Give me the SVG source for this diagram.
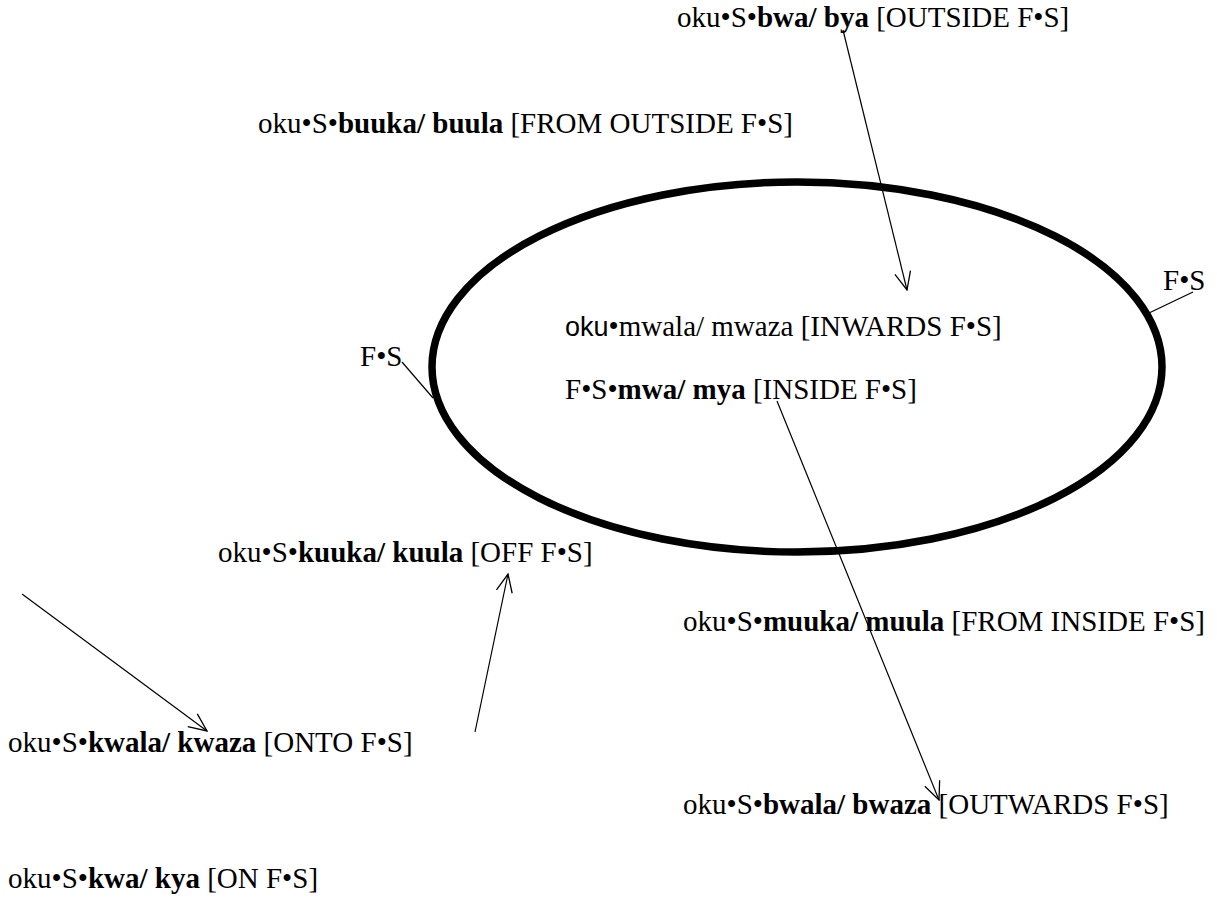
<svg xmlns="http://www.w3.org/2000/svg" width="1217" height="900" viewBox="0 0 1217 900">
  <style>
    text { font-family: "Liberation Serif", "Times New Roman", serif; font-size: 29px; fill: #000; }
    .b { font-weight: bold; }
    .sans { font-family: "Liberation Sans", Arial, sans-serif; font-size: 27px; }
    .conn { stroke: #000; stroke-width: 1.2; fill: none; }
    .arrow { marker-end: url(#openArrow); }
  </style>
  <defs>
    <marker id="openArrow" markerUnits="userSpaceOnUse" markerWidth="20" markerHeight="18" viewBox="0 0 20 18" refX="19" refY="9" orient="auto">
      <path d="M1,1 L19,9 L1,17" fill="none" stroke="#000" stroke-width="1.3"/>
    </marker>
  </defs>
  <rect width="1217" height="900" fill="#fff"/>

  <!-- the figure: a thick ellipse -->
  <g id="figure">
    <ellipse cx="797" cy="367" rx="365" ry="185" fill="none" stroke="#000" stroke-width="7.5"/>
  </g>

  <!-- connectors -->
  <g id="connectors">
    <line class="conn arrow" x1="843" y1="30" x2="907" y2="290"/>
    <line class="conn arrow" x1="777" y1="401" x2="939" y2="800"/>
    <line class="conn arrow" x1="22" y1="594" x2="207" y2="731"/>
    <line class="conn arrow" x1="475" y1="732" x2="508" y2="574"/>
    <line class="conn" x1="402" y1="362" x2="433" y2="398"/>
    <line class="conn" x1="1193" y1="292" x2="1149" y2="313"/>
  </g>

  <g id="outside"><text x="677" y="27">oku•S•<tspan class="b">bwa/ bya</tspan> [OUTSIDE F•S]</text></g>
  <g id="from-outside"><text x="258" y="133">oku•S•<tspan class="b">buuka/ buula</tspan> [FROM OUTSIDE F•S]</text></g>
  <g id="fs-right"><text x="1163" y="290">F•S</text></g>
  <g id="inwards"><text x="565" y="336"><tspan class="sans">oku</tspan>•mwala/ mwaza [INWARDS F•S]</text></g>
  <g id="fs-left"><text x="360" y="366">F•S</text></g>
  <g id="inside"><text x="565" y="399">F•S•<tspan class="b">mwa/ mya</tspan> [INSIDE F•S]</text></g>
  <g id="off"><text x="218" y="562">oku•S•<tspan class="b">kuuka/ kuula</tspan> [OFF F•S]</text></g>
  <g id="from-inside"><text x="683" y="631">oku•S•<tspan class="b">muuka/ muula</tspan> [FROM INSIDE F•S]</text></g>
  <g id="onto"><text x="8" y="752">oku•S•<tspan class="b">kwala/ kwaza</tspan> [ONTO F•S]</text></g>
  <g id="outwards"><text x="683" y="814">oku•S•<tspan class="b">bwala/ bwaza</tspan> [OUTWARDS F•S]</text></g>
  <g id="on"><text x="8" y="888">oku•S•<tspan class="b">kwa/ kya</tspan> [ON F•S]</text></g>
</svg>
